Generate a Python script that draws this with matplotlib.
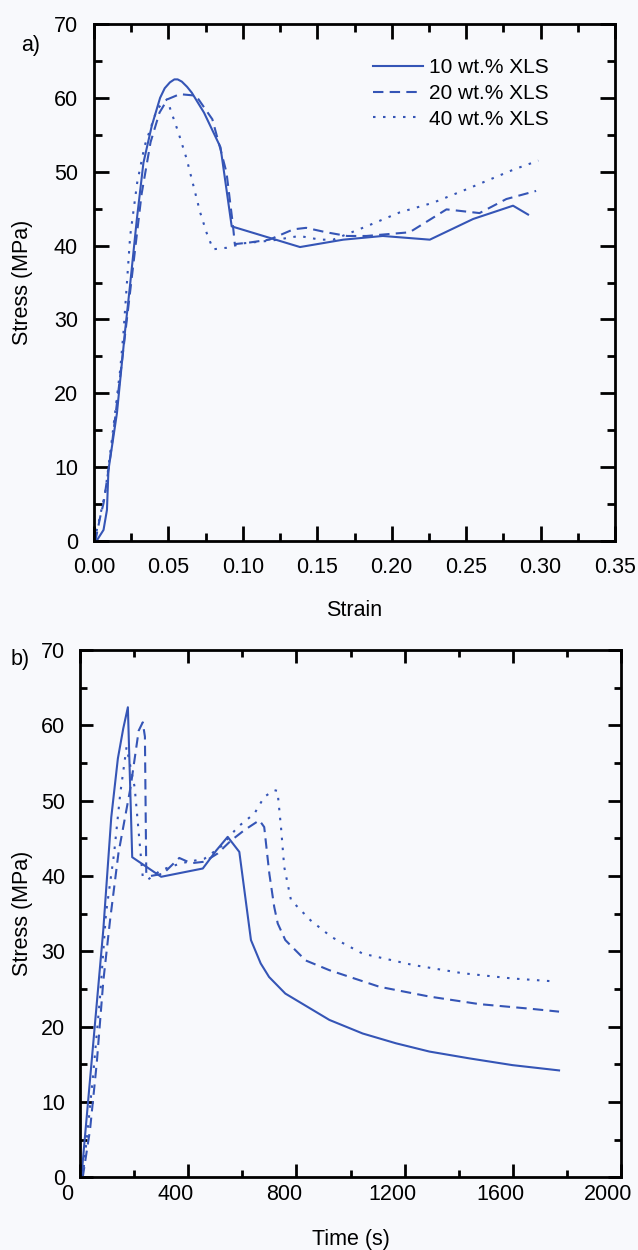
import matplotlib
matplotlib.use("Agg")
import matplotlib.pyplot as plt
import matplotlib.transforms as mtransforms
from matplotlib.ticker import MultipleLocator, FormatStrFormatter

plt.rcParams['font.family'] = ['Liberation Sans', 'DejaVu Sans']

# ---- a) stress vs strain ----
strain_10 = [0, 0.002, 0.0064, 0.0087, 0.0097, 0.0154, 0.0209, 0.0243, 0.0288, 0.0332,
             0.0388, 0.0444, 0.0475, 0.0510, 0.0540, 0.0562, 0.0590, 0.0625, 0.0657, 0.0739,
             0.085, 0.0925, 0.1384, 0.1675, 0.194, 0.2256, 0.2547, 0.2815, 0.2916]
stress_10 = [0, 0.1, 1.5, 4.2, 9.6, 17.3, 28.5, 34.8, 43.6, 51.2,
             56.2, 60.0, 61.3, 62.1, 62.5, 62.5, 62.2, 61.5, 60.7, 58.0,
             53.3, 42.6, 39.8, 40.8, 41.3, 40.8, 43.6, 45.4, 44.2]

strain_20 = [0, 0.001, 0.0042, 0.0064, 0.0097, 0.012, 0.018, 0.025, 0.032, 0.038,
             0.044, 0.0493, 0.0576, 0.0685, 0.0795, 0.085, 0.089, 0.0932, 0.0946, 0.104,
             0.1178, 0.134, 0.1425, 0.156, 0.17, 0.183, 0.212, 0.2368, 0.259, 0.277, 0.297]
stress_20 = [0, 0.1, 3.3, 5.1, 9.6, 13.0, 23.0, 35.0, 47.0, 54.0,
             58.0, 59.8, 60.5, 60.3, 57.1, 53.0, 49.9, 43.0, 40.2, 40.4,
             40.8, 42.2, 42.4, 41.8, 41.3, 41.3, 41.8, 44.9, 44.4, 46.3, 47.4]

strain_40 = [0, 0.003, 0.0075, 0.012, 0.0176, 0.0198, 0.0243, 0.029, 0.034, 0.0424,
             0.049, 0.0567, 0.0623, 0.0668, 0.0713, 0.0757, 0.080, 0.089, 0.100, 0.120,
             0.138, 0.1518, 0.1607, 0.183, 0.2055, 0.2278, 0.25, 0.282, 0.2985]
stress_40 = [0, 2.4, 6.5, 13.7, 23.2, 28.2, 41.3, 48.5, 53.5, 58.5,
             59.8, 55.3, 51.7, 48.1, 44.5, 41.7, 39.5, 39.7, 40.3, 40.7,
             41.3, 40.8, 40.8, 42.6, 44.5, 45.8, 47.6, 50.3, 51.5]

# ---- b) stress vs time ----
time_10 = [5, 86, 115.6, 140, 160, 177, 193, 300, 454, 504, 546, 589, 632, 668, 699,
           759, 922, 1045, 1168, 1292, 1439, 1599, 1771]
tstress_10 = [0, 32.8, 47.8, 55.6, 59.6, 62.4, 42.5, 39.9, 41.0, 43.4, 45.2, 43.2, 31.5, 28.4, 26.6,
              24.4, 20.9, 19.1, 17.8, 16.7, 15.8, 14.9, 14.2]

time_20 = [10, 37, 62, 86, 111, 142, 187, 217, 232, 240, 245, 260, 307, 367, 411, 460,
           509, 558, 608, 663, 681, 700, 718, 731, 759, 834, 922, 1107, 1292, 1476, 1661, 1771]
tstress_20 = [0, 6.3, 15.2, 26.0, 34.1, 43.0, 51.8, 59.3, 60.4, 58.5, 40.3, 40.0, 40.3, 42.4, 41.7, 41.9,
              43.0, 44.7, 46.1, 47.4, 46.5, 40.3, 35.9, 33.7, 31.5, 28.8, 27.5, 25.3, 24.0, 23.0, 22.4, 22.0]

time_40 = [10, 31, 49, 74, 96, 126, 149, 172, 202, 224, 232, 250, 300, 374, 460, 521,
           583, 645, 681, 718, 730, 743, 755, 780, 853, 930, 1045, 1230, 1414, 1599, 1760]
tstress_40 = [0, 7.2, 13.8, 23.9, 35.0, 43.0, 51.0, 57.1, 51.8, 43.0, 39.9, 39.5, 40.8, 41.7, 42.3, 43.9,
              46.5, 48.3, 50.5, 51.4, 51.3, 46.5, 41.2, 36.8, 34.1, 31.9, 29.7, 28.2, 27.1, 26.4, 26.0]

labels = ['10 wt.% XLS', '20 wt.% XLS', '40 wt.% XLS']

BLUE = '#3555b6'
BG = '#f8f9fc'
LW = 1.5
FS = 15.5
styles = [dict(linestyle='-'),
          dict(linestyle=(0, (5, 3))),
          dict(linestyle=(0, (1.2, 3.6)))]

W, H = 638, 1250
fig = plt.figure(figsize=(W / 100, H / 100), dpi=100, facecolor=BG)


def px_axes(left, top, right, bottom):
    return fig.add_axes([left / W, 1 - bottom / H, (right - left) / W, (bottom - top) / H])


def style_axes(ax, major_len, minor_len, xpad, ypad):
    ax.set_facecolor(BG)
    for s in ax.spines.values():
        s.set_linewidth(2.0)
        s.set_color('black')
    ax.tick_params(which='both', direction='in', top=True, right=True, width=2.0,
                   colors='black', labelsize=FS)
    ax.tick_params(which='major', length=major_len)
    ax.tick_params(which='minor', length=minor_len)
    ax.tick_params(axis='x', which='major', pad=xpad)
    ax.tick_params(axis='y', which='major', pad=ypad)


# panel a
ax1 = px_axes(94, 24, 615, 541)
for xs, ys, st, lab in zip([strain_10, strain_20, strain_40],
                           [stress_10, stress_20, stress_40], styles, labels):
    ax1.plot(xs, ys, color=BLUE, lw=LW, label=lab, **st)
ax1.set_xlim(0, 0.35)
ax1.set_ylim(0, 70)
ax1.xaxis.set_major_locator(MultipleLocator(0.05))
ax1.xaxis.set_minor_locator(MultipleLocator(0.025))
ax1.xaxis.set_major_formatter(FormatStrFormatter('%.2f'))
ax1.yaxis.set_major_locator(MultipleLocator(10))
ax1.yaxis.set_minor_locator(MultipleLocator(5))
style_axes(ax1, 11, 6, 11.5, 11.5)
ax1.set_xlabel('Strain', fontsize=FS, va='center')
ax1.xaxis.set_label_coords(0.5, 1 - 610 / H,
                           transform=mtransforms.blended_transform_factory(ax1.transAxes, fig.transFigure))
ax1.set_ylabel('Stress (MPa)', fontsize=FS, va='center')
ax1.yaxis.set_label_coords(22.5 / W, 0.5,
                           transform=mtransforms.blended_transform_factory(fig.transFigure, ax1.transAxes))
leg = ax1.legend(loc='upper left', bbox_to_anchor=((373 - 94) / 521, (541 - 58) / 517),
                 frameon=False, fontsize=15, handlelength=2.4, handletextpad=0.3,
                 labelspacing=0.33, borderpad=0, borderaxespad=0)

# panel b
ax2 = px_axes(80, 650, 621, 1177.4)
for xs, ys, st in zip([time_10, time_20, time_40],
                      [tstress_10, tstress_20, tstress_40], styles):
    ax2.plot(xs, ys, color=BLUE, lw=LW, **st)
ax2.set_xlim(0, 2000)
ax2.set_ylim(0, 70)
ax2.xaxis.set_major_locator(MultipleLocator(400))
ax2.xaxis.set_minor_locator(MultipleLocator(200))
ax2.yaxis.set_major_locator(MultipleLocator(10))
ax2.yaxis.set_minor_locator(MultipleLocator(5))
style_axes(ax2, 9.5, 5, 5, 10.5)
shift = mtransforms.ScaledTranslation(-12.5 / 100, 0, fig.dpi_scale_trans)
for lbl in ax2.get_xticklabels():
    lbl.set_transform(lbl.get_transform() + shift)
ax2.set_xlabel('Time (s)', fontsize=FS, va='center')
ax2.xaxis.set_label_coords(0.5, 1 - 1239 / H,
                           transform=mtransforms.blended_transform_factory(ax2.transAxes, fig.transFigure))
ax2.set_ylabel('Stress (MPa)', fontsize=FS, va='center')
ax2.yaxis.set_label_coords(22.5 / W, 0.5,
                           transform=mtransforms.blended_transform_factory(fig.transFigure, ax2.transAxes))

fig.text(30.6 / W, 1 - 45.7 / H, 'a)', fontsize=FS, ha='center', va='center')
fig.text(20 / W, 1 - 659 / H, 'b)', fontsize=FS, ha='center', va='center')

fig.savefig('out.png', dpi=100, facecolor=BG)
